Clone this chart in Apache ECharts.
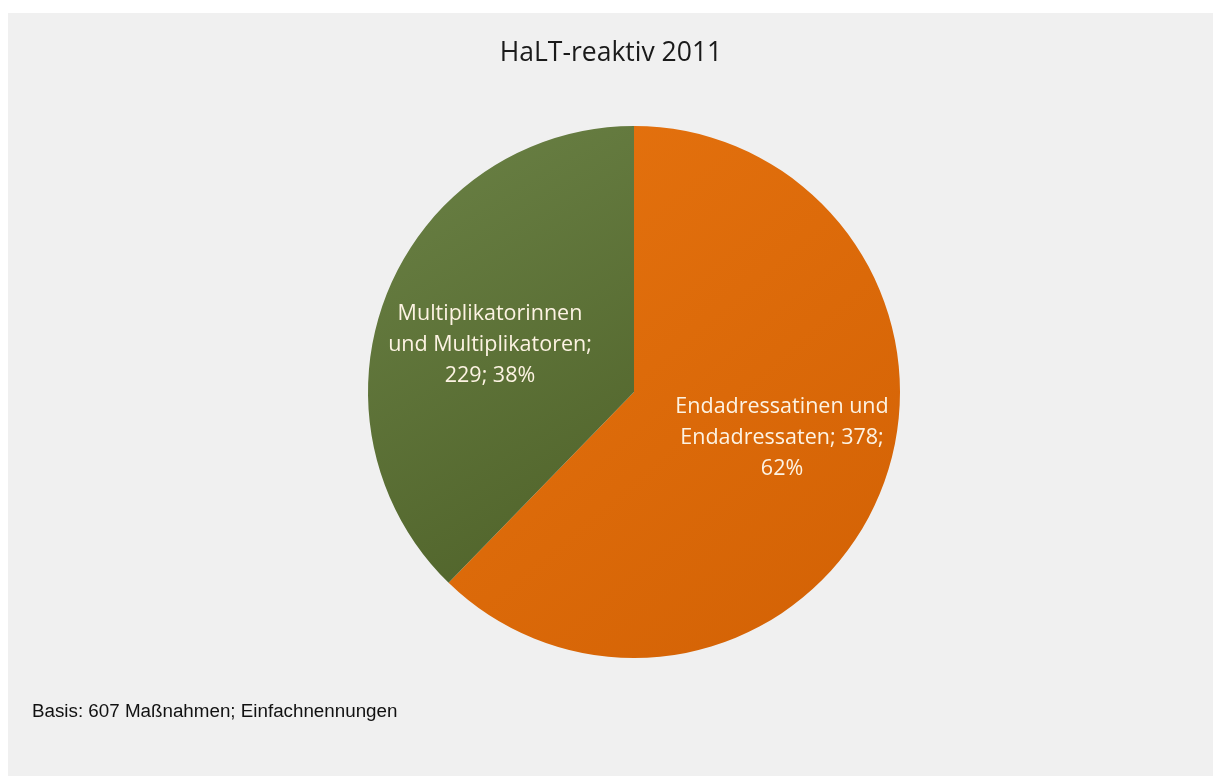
<!DOCTYPE html>
<html>
<head>
<meta charset="utf-8">
<script src="https://cdn.jsdelivr.net/npm/echarts@6/dist/echarts.min.js"></script>
<style>
html,body{margin:0;padding:0;background:#ffffff;}
#chart{width:1213px;height:776px;}
</style>
</head>
<body>
<div id="chart"></div>
<script>
const titleText = 'HaLT-reaktiv 2011';
const categories = ['Endadressatinen und\nEndadressaten', 'Multiplikatorinnen\nund Multiplikatoren'];
const values = [378, 229];
const percents = ['62%', '38%'];
const footnote = 'Basis: 607 Maßnahmen; Einfachnennungen';

const gradients = [
  ['#E6730F', '#D26104'],
  ['#6B8246', '#4E6128']
];
const labelLayouts = [
  { offset: [22, -5] },
  { offset: [-18, 4] }
];

const chart = echarts.init(document.getElementById('chart'));
chart.setOption({
  backgroundColor: '#ffffff',
  animation: false,
  graphic: [
    { type: 'rect', z: -10, shape: { x: 8, y: 13, width: 1205, height: 763 }, style: { fill: '#f0f0f0' } },
    { type: 'text', x: 611, y: 53, style: { text: titleText, font: '26.5px "Open Sans", sans-serif', fill: '#1a1a1a', align: 'center', verticalAlign: 'middle' } },
    { type: 'text', left: 32, top: 702, style: { text: footnote, font: '18.8px "Liberation Sans", Arial, sans-serif', fill: '#111111' } }
  ],
  series: [{
    type: 'pie',
    center: [634, 392],
    radius: 266,
    startAngle: 90,
    clockwise: true,
    silent: true,
    labelLine: { show: false },
    label: {
      show: true,
      position: 'inside',
      fontFamily: '"Open Sans", sans-serif',
      fontSize: 21.5,
      lineHeight: 31,
      color: '#FDF3E3',
      align: 'center'
    },
    data: values.map((v, i) => ({
      value: v,
      name: categories[i],
      label: {
        formatter: () => {
          const n = categories[i];
          return i === 0 ? n + '; ' + v + ';\n' + percents[i] : n + ';\n' + v + '; ' + percents[i];
        },
        offset: labelLayouts[i].offset
      },
      itemStyle: {
        color: {
          type: 'linear', x: 0, y: 0, x2: 1, y2: 1,
          colorStops: [{ offset: 0, color: gradients[i][0] }, { offset: 1, color: gradients[i][1] }]
        },
        borderWidth: 0
      }
    }))
  }]
});
</script>
</body>
</html>
